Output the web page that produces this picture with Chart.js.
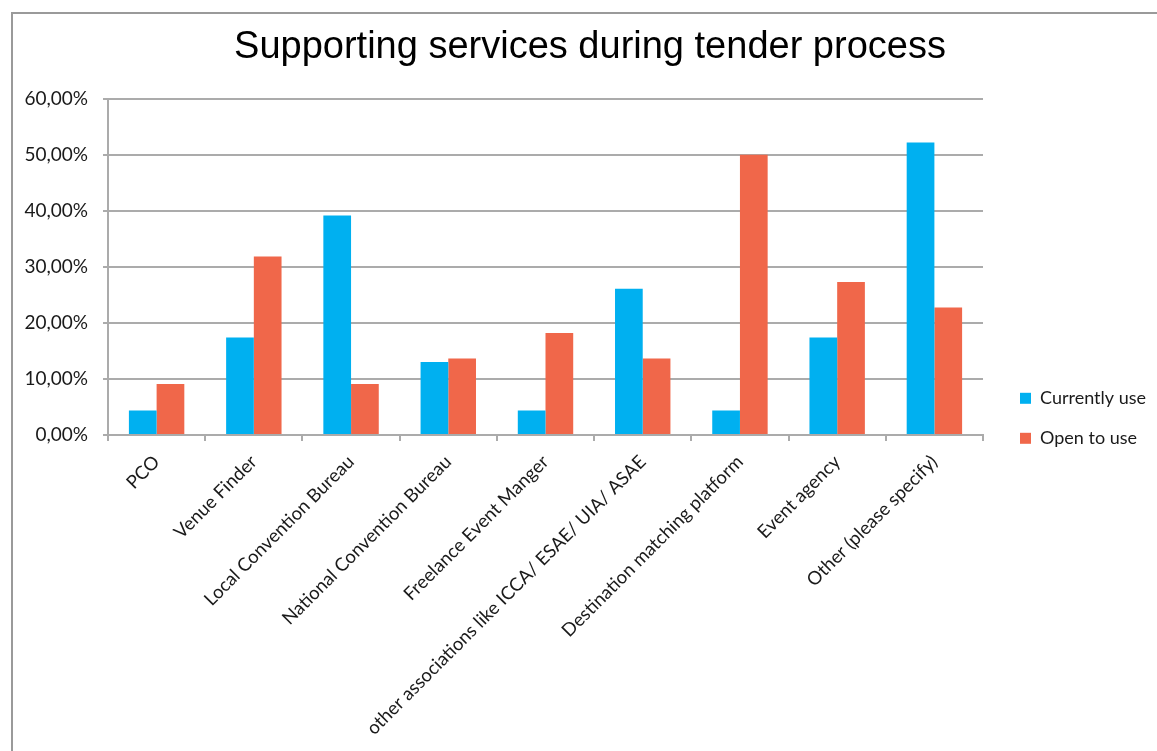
<!DOCTYPE html>
<html>
<head>
<meta charset="utf-8">
<title>Supporting services during tender process</title>
<script src="https://cdn.jsdelivr.net/npm/chart.js@4.4.1/dist/chart.umd.min.js"></script>
<style>
  html, body { margin: 0; padding: 0; background: #fff; overflow: hidden; }
  #frame {
    position: absolute; left: 11px; top: 12px; width: 1300px; height: 900px;
    border-left: 2px solid #9a9a9a; border-top: 2px solid #9a9a9a;
  }
  #wrap { position: absolute; left: 0; top: 0; width: 1157px; height: 751px; }
</style>
</head>
<body>
<div id="frame"></div>
<div id="wrap"><canvas id="servicesChart"></canvas></div>
<script>
/**
 * Supporting services during tender process
 * Clustered bar chart, two series, values in percent.
 */

const CATEGORIES = [
  'PCO',
  'Venue Finder',
  'Local Convention Bureau',
  'National Convention Bureau',
  'Freelance Event Manger',
  'other associations like ICCA/ ESAE/ UIA/ ASAE',
  'Destination matching platform',
  'Event agency',
  'Other (please specify)',
];

const CURRENTLY_USE = [4.35, 17.39, 39.13, 13.04, 4.35, 26.09, 4.35, 17.39, 52.17];
const OPEN_TO_USE   = [9.09, 31.82, 9.09, 13.64, 18.18, 13.64, 50.00, 27.27, 22.73];

const Y_MIN  = 0;
const Y_MAX  = 60;
const Y_STEP = 10;

const BLUE   = '#00b0f0';
const ORANGE = '#f0674a';
const GRID   = '#ababab';
const TEXT   = '#1a1a1a';
const FONT   = 'Lato, "Open Sans", sans-serif';

// Layout numbers (pixels) tuned against the reference picture
const PAD_LEFT    = 24;
const PAD_RIGHT   = 1;
const PAD_BOTTOM  = 13;
const Y_AXIS_W    = 84;   // chart area starts at PAD_LEFT + Y_AXIS_W
const X_AXIS_H    = 303;  // room for the rotated category labels
const LEGEND_GAP  = 15;   // space between plot and legend
const LEGEND_DROP = 77;   // empty legend title pushes the items down

function pct(v) {
  return v.toFixed(2).replace('.', ',') + '%';
}

const ctx = document.getElementById('servicesChart').getContext('2d');

new Chart(ctx, {
  type: 'bar',
  data: {
    labels: CATEGORIES,
    datasets: [
      {
        label:           'Currently use',
        data:            CURRENTLY_USE,
        backgroundColor: BLUE,
        borderWidth:     0,
      },
      {
        label:           'Open to use',
        data:            OPEN_TO_USE,
        backgroundColor: ORANGE,
        borderWidth:     0,
      },
    ],
  },
  options: {
    responsive:          true,
    maintainAspectRatio: false,
    animation:           false,
    datasets: {
      bar: { categoryPercentage: 0.57, barPercentage: 1.0 },
    },
    layout: {
      padding: { left: PAD_LEFT, right: PAD_RIGHT, top: 0, bottom: PAD_BOTTOM },
    },
    plugins: {
      title: {
        display: true,
        text:    'Supporting services during tender process',
        color:   '#000',
        font:    { family: '"Liberation Sans", Arial, sans-serif', size: 38, weight: 'normal' },
        padding: { top: 25, bottom: 28 },
      },
      legend: {
        position: 'right',
        align:    'center',
        title: {
          display: true,
          text:    '',
          font:    { family: FONT, size: 18 },
          padding: { top: LEGEND_DROP, bottom: 0 },
        },
        labels: {
          color:     TEXT,
          font:      { family: FONT, size: 18 },
          boxWidth:  11,
          boxHeight: 11,
          padding:   22,
        },
      },
      tooltip: { enabled: false },
    },
    scales: {
      x: {
        grid: {
          display:         true,
          drawOnChartArea: false,
          drawTicks:       true,
          tickLength:      6,
          color:           GRID,
          lineWidth:       2,
        },
        border: { display: true, color: GRID, width: 2 },
        ticks: {
          color:       TEXT,
          font:        { family: FONT, size: 18.5 },
          minRotation: 45,
          maxRotation: 45,
          padding:     10,
          autoSkip:    false,
        },
        afterFit: (scale) => { scale.height = X_AXIS_H; },
      },
      y: {
        min: Y_MIN,
        max: Y_MAX,
        grid: {
          color:      GRID,
          lineWidth:  2,
          tickLength: 5,
        },
        border: { display: true, color: GRID, width: 2 },
        ticks: {
          stepSize: Y_STEP,
          color:    TEXT,
          font:     { family: FONT, size: 19 },
          padding:  15,
          callback: (v) => pct(v),
        },
        afterFit: (scale) => { scale.width = Y_AXIS_W; },
      },
      // empty spacer axis so the legend sits a little off the plot
      gap: {
        type:     'linear',
        position: 'right',
        display:  true,
        grid:     { display: false },
        border:   { display: false },
        ticks:    { display: false },
        afterFit: (scale) => { scale.width = LEGEND_GAP; },
      },
    },
  },
});
</script>
</body>
</html>
